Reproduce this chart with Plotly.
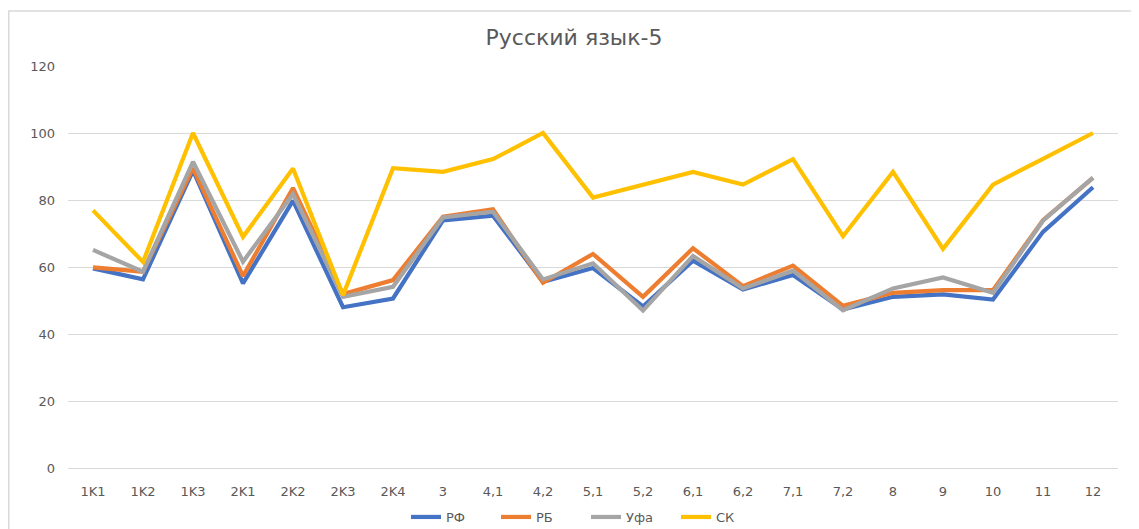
import plotly.graph_objects as go

categories = ["1K1", "1K2", "1K3", "2K1", "2K2", "2K3", "2K4", "3", "4,1", "4,2",
              "5,1", "5,2", "6,1", "6,2", "7,1", "7,2", "8", "9", "10", "11", "12"]
rf = [59.6, 56.3, 88.8, 55.1, 79.8, 48.0, 50.6, 73.9, 75.3, 55.6,
      59.7, 48.2, 61.9, 53.3, 57.6, 47.3, 51.1, 51.8, 50.3, 70.5, 83.8]
rb = [59.9, 58.6, 89.5, 57.3, 83.6, 51.9, 56.1, 75.0, 77.2, 55.3,
      63.9, 51.1, 65.6, 54.3, 60.4, 48.4, 52.3, 53.1, 53.1, 74.0, 86.6]
ufa = [65.1, 58.6, 91.4, 61.6, 81.8, 51.1, 54.1, 74.8, 76.5, 56.3,
       61.1, 47.0, 63.3, 53.6, 58.9, 47.1, 53.6, 56.9, 52.3, 73.8, 86.7]
sk = [76.9, 61.5, 100.0, 69.0, 89.4, 51.6, 89.5, 88.4, 92.2, 100.0,
      80.7, 84.6, 88.4, 84.6, 92.2, 69.2, 88.4, 65.4, 84.6, 92.3, 100.0]

series = [("РФ", rf, "#4472C4"), ("РБ", rb, "#ED7D31"),
          ("Уфа", ufa, "#A5A5A5"), ("СК", sk, "#FFC000")]

fig = go.Figure()
for name, vals, color in series:
    fig.add_trace(go.Scatter(x=categories, y=vals, name=name, mode="lines",
                             line=dict(color=color, width=4.2)))

# the page body has an 8px margin, so the figure is drawn 8px in and down
OFF = 8
W, H = 1139 - OFF, 529 - OFF
L, R, T, B = 68 - OFF, 21, 66 - OFF, 61
pw, ph = W - L - R, H - T - B

def px(xs):
    return (xs - OFF - L) / pw

def py(ys):
    return (H - B - (ys - OFF)) / ph

fig.update_layout(
    width=W, height=H,
    margin=dict(l=L, r=R, t=T, b=B, pad=0, autoexpand=False),
    paper_bgcolor="white", plot_bgcolor="white",
    font=dict(family="DejaVu Sans", color="#595959", size=13),
    title=dict(text="Русский язык-5", xref="container", x=(574 - OFF) / W,
               xanchor="center", yref="container", y=1 - (37 - OFF) / H,
               yanchor="middle",
               font=dict(family="DejaVu Sans", size=22, color="#595959")),
    xaxis=dict(type="category", range=[-0.5, 20.5], showgrid=False,
               showline=False, zeroline=False, ticks="",
               ticklabelstandoff=14,
               tickfont=dict(size=13, color="#595959")),
    yaxis=dict(range=[0, 120], dtick=20, showgrid=True, gridcolor="#D9D9D9",
               gridwidth=1, zeroline=True, zerolinecolor="#D9D9D9",
               zerolinewidth=1, showline=False, ticks="",
               ticklabelstandoff=12,
               tickfont=dict(size=13, color="#595959")),
    legend=dict(orientation="h", xref="container", yref="container",
                xanchor="center", x=(586 - OFF) / W,
                yanchor="middle", y=1 - (517 - OFF) / H,
                font=dict(size=13, color="#595959"),
                bgcolor="rgba(0,0,0,0)", itemwidth=30,
                entrywidth=45, entrywidthmode="pixels"),
    showlegend=True,
)

fig.add_shape(type="rect", xref="paper", yref="paper",
              x0=px(8.75), x1=px(1150), y0=py(545), y1=py(11),
              line=dict(color="#D9D9D9", width=1.5), fillcolor="rgba(0,0,0,0)",
              layer="below")

fig.write_html("out.html")
